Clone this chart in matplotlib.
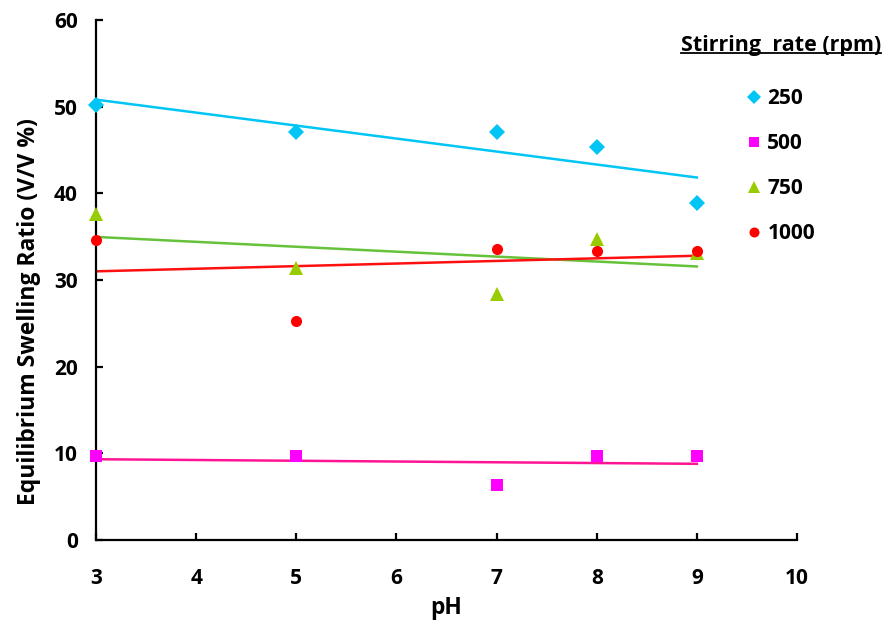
import numpy as np
import matplotlib.pyplot as plt
from matplotlib.lines import Line2D

plt.rcParams['font.family'] = ['Open Sans', 'DejaVu Sans']
plt.rcParams['font.weight'] = 'bold'

ph = [3, 5, 7, 8, 9]
rates = ['250', '500', '750', '1000']
swell_250 = [50.2, 47.1, 47.1, 45.3, 38.9]
swell_500 = [9.7, 9.7, 6.3, 9.7, 9.7]
swell_750 = [37.6, 31.4, 28.4, 34.7, 33.1]
swell_1000 = [34.6, 25.3, 33.6, 33.3, 33.3]

marker_colors = ['#00c5f5', '#ff00ff', '#99cc00', '#ff0000']
line_colors = ['#00c5f5', '#ff1493', '#66c23a', '#ff1010']
markers = ['D', 's', '^', 'o']
msizes = [8, 8, 9.5, 8]

fig = plt.figure(figsize=(8.85, 6.23), dpi=100)
ax = fig.add_axes([96/885, 1-540/623, 701/885, 520/623])

series = [swell_250, swell_500, swell_750, swell_1000]
handles = []
for vals, mc, lc, m, ms, lab in zip(series, marker_colors, line_colors, markers, msizes, rates):
    ax.plot(ph, vals, linestyle='none', marker=m, color=mc, markersize=ms,
            markeredgewidth=0, clip_on=False, zorder=3)
    k, b = np.polyfit(ph, vals, 1)
    xs = np.array([ph[0], ph[-1]])
    ax.plot(xs, k*xs + b, color=lc, linewidth=1.8, zorder=2)
    handles.append(Line2D([], [], linestyle='none', marker=m, color=mc,
                          markersize=ms*0.9, markeredgewidth=0, label=lab))

ax.set_xlim(3, 10)
ax.set_ylim(0, 60)
ax.set_xticks(range(3, 11))
ax.set_yticks(range(0, 61, 10))
ax.spines['top'].set_visible(False)
ax.spines['right'].set_visible(False)
for s in ['left', 'bottom']:
    ax.spines[s].set_linewidth(1.6)
ax.tick_params(direction='in', length=5, width=1.6, labelsize=15)
ax.tick_params(axis='x', pad=20)
ax.tick_params(axis='y', pad=13)
ax.set_xlabel('pH', fontsize=16.5, fontweight='bold', labelpad=5)
ax.set_ylabel('Equilibrium Swelling Ratio (V/V %)', fontsize=16.5, fontweight='bold')
ax.yaxis.set_label_coords(-0.078, 0.44)

title = fig.text(881/885, 1-45/623, 'Stirring  rate (rpm)', ha='right', va='center',
                 fontsize=15.5, fontweight='bold')
fig.canvas.draw()
bb = title.get_window_extent().transformed(fig.transFigure.inverted())
fig.add_artist(Line2D([bb.x0, bb.x1], [bb.y0 + 0.004, bb.y0 + 0.004],
                      transform=fig.transFigure, color='black', linewidth=1.3))

ax.legend(handles=handles, loc='upper left', bbox_to_anchor=(735/885, 1-78/623),
          bbox_transform=fig.transFigure, frameon=False, fontsize=15,
          handlelength=0.8, handletextpad=0.25, labelspacing=1.15, borderpad=0)

fig.savefig('out.png', dpi=100, facecolor='white')
